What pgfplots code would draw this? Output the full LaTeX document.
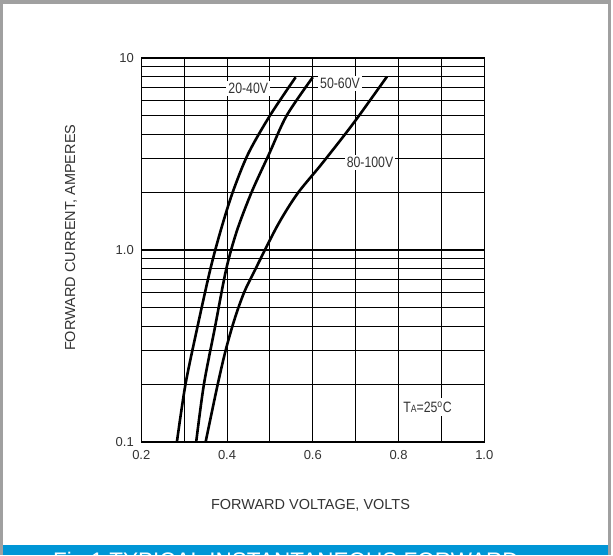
\documentclass[border=0pt]{standalone}
\usepackage{fontspec}
\setmainfont{Liberation Sans}
\newfontfamily\narrowfont[FakeStretch=0.82]{Liberation Sans}
\usepackage{pgfplots}
\pgfplotsset{compat=1.18}
\definecolor{framegray}{HTML}{A0A0A0}
\definecolor{barblue}{HTML}{0096D6}
\definecolor{txt}{HTML}{333333}
\begin{document}
\begin{tikzpicture}[x=1pt,y=1pt]
\useasboundingbox (0,0) rectangle (613,555);
\fill[white] (0,0) rectangle (613,555);
\begin{axis}[
  at={(141.3pt,113pt)}, anchor=south west,
  scale only axis, width=343pt, height=384pt,
  xmin=0.2, xmax=1.0, ymin=0.1, ymax=10, ymode=log,
  xtick={0.2,0.4,0.6,0.8,1.0}, xticklabels={0.2,0.4,0.6,0.8,1.0},
  minor xtick={0.3,0.5,0.7,0.9},
  ytick={0.1,1,10}, yticklabels={0.1,1.0,10},
  grid=both,
  major grid style={draw=black, line width=1.1pt},
  minor grid style={draw=black, line width=1pt},
  major tick length=0pt, minor tick length=0pt,
  axis line style={black, line width=1.2pt},
  tick label style={font=\fontsize{13}{15}\selectfont, text=txt},
  xticklabel style={yshift=-5pt},
  yticklabel style={xshift=-4pt},
  /pgf/number format/assume math mode=true,
  clip=true,
]
% 20-40V
\addplot[black, line width=2.6pt, smooth] coordinates {
(0.283,0.1) (0.303,0.1995) (0.331,0.398) (0.361,0.794) (0.385,1.259)
(0.413,1.995) (0.449,3.162) (0.500,5.012) (0.560,7.943)};
% 50-60V
\addplot[black, line width=2.6pt, smooth] coordinates {
(0.328,0.1) (0.346,0.1995) (0.372,0.398) (0.398,0.794) (0.423,1.259)
(0.457,1.995) (0.498,3.162) (0.539,5.012) (0.600,7.943)};
% 80-100V
\addplot[black, line width=2.6pt, smooth] coordinates {
(0.350,0.1) (0.377,0.194) (0.395,0.290) (0.411,0.391) (0.425,0.490)
(0.440,0.603) (0.455,0.708) (0.516,1.32) (0.563,1.95)
(0.617,2.74) (0.668,3.82) (0.707,4.98) (0.773,8.0)};
\end{axis}
% curve labels
\node[fill=white, inner sep=2pt, font=\narrowfont\fontsize{15}{15}\selectfont, text=txt] at (248.3,466.2) {20-40V};
\node[fill=white, inner sep=2pt, font=\narrowfont\fontsize{15}{15}\selectfont, text=txt] at (340,471.2) {50-60V};
\node[fill=white, inner sep=2pt, font=\narrowfont\fontsize{15}{15}\selectfont, text=txt] at (370,392.8) {80-100V};
\node[fill=white, inner sep=3pt, font=\narrowfont\fontsize{15}{15}\selectfont, text=txt] at (427.5,148) {T{\fontsize{10.5}{10.5}\selectfont A}=25\textsuperscript{o}C};
% axis titles
\node[font=\fontsize{14.5}{16}\selectfont, text=txt] at (310.5,49.5) {FORWARD VOLTAGE, VOLTS};
\node[rotate=90, font=\fontsize{14.5}{16}\selectfont, text=txt] at (71,317.3) {FORWARD CURRENT, AMPERES};
% frame
\fill[framegray] (0,551) rectangle (611,555);
\fill[framegray] (0,0) rectangle (3,555);
\fill[framegray] (608,0) rectangle (611,555);
% caption bar
\fill[barblue] (3,0) rectangle (608,10);
\begin{scope}
\clip (3,0) rectangle (608,10);
\node[anchor=base west, inner sep=0pt, font=\fontsize{22.5}{22.5}\selectfont, text=white] at (53,-13.4) {Fig.1 TYPICAL INSTANTANEOUS FORWARD};
\end{scope}
\end{tikzpicture}
\end{document}
